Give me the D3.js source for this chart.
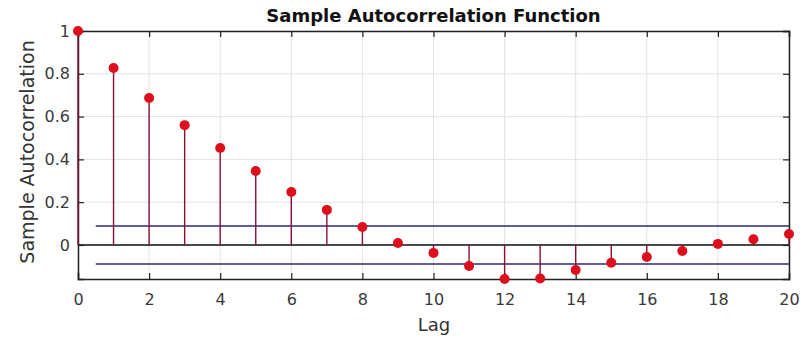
<!DOCTYPE html>
<html>
<head>
<meta charset="utf-8">
<script src="https://cdn.jsdelivr.net/npm/d3@7"></script>
<style>
  body { margin: 0; background: #fff; }
  text { font-family: "DejaVu Sans", sans-serif; }
</style>
</head>
<body>
<div id="chart"></div>
<script>
// lag values and sample autocorrelation
const lags = [0, 1, 2, 3, 4, 5, 6, 7, 8, 9, 10, 11, 12, 13, 14, 15, 16, 17, 18, 19, 20];
const acf = [1, 0.827, 0.687, 0.56, 0.453, 0.346, 0.248, 0.164, 0.084, 0.009, -0.037,
  -0.098, -0.159, -0.157, -0.117, -0.083, -0.056, -0.028, 0.005, 0.027, 0.051];
const bounds = [0.089, -0.089];
const xTicks = [0, 2, 4, 6, 8, 10, 12, 14, 16, 18, 20];
const yTicks = [0, 0.2, 0.4, 0.6, 0.8, 1];

const W = 812, H = 340;
const margin = { top: 31, right: 23, bottom: 61, left: 78 },
  width = W - margin.left - margin.right,
  height = H - margin.top - margin.bottom;

const x = d3.scaleLinear().domain([0, 20]).range([0, width]);
const y = d3.scaleLinear().domain([-0.159, 1]).range([height, 0]);

const svg = d3.select("#chart").append("svg")
  .attr("width", W)
  .attr("height", H);

const g = svg.append("g")
  .attr("transform", "translate(" + margin.left + "," + margin.top + ")");

// grid
g.selectAll(".vgrid").data(xTicks).enter().append("line")
  .attr("x1", d => x(d)).attr("x2", d => x(d))
  .attr("y1", 0).attr("y2", height)
  .attr("stroke", "#e2e2e2").attr("stroke-width", 1);
g.selectAll(".hgrid").data(yTicks).enter().append("line")
  .attr("x1", 0).attr("x2", width)
  .attr("y1", d => y(d)).attr("y2", d => y(d))
  .attr("stroke", "#e2e2e2").attr("stroke-width", 1);

// confidence bounds
g.selectAll(".bound").data(bounds).enter().append("line")
  .attr("x1", x(0.5)).attr("x2", x(20))
  .attr("y1", d => y(d)).attr("y2", d => y(d))
  .attr("stroke", "#2c2a78").attr("stroke-width", 1.5);

// zero line
g.append("line")
  .attr("x1", 0).attr("x2", width)
  .attr("y1", y(0)).attr("y2", y(0))
  .attr("stroke", "#111").attr("stroke-width", 1.5);

// axes with inward ticks
const xAxis = g.append("g").attr("transform", "translate(0," + height + ")")
  .call(d3.axisBottom(x).tickValues(xTicks).tickSize(-6).tickPadding(15).tickFormat(d3.format("d")));
const xTop = g.append("g")
  .call(d3.axisTop(x).tickValues(xTicks).tickSize(-6).tickFormat(""));
const yAxis = g.append("g")
  .call(d3.axisLeft(y).tickValues(yTicks).tickSize(-6).tickPadding(8).tickFormat(d => d === 1 ? "1" : d === 0 ? "0" : d.toFixed(1)));
const yRight = g.append("g").attr("transform", "translate(" + width + ",0)")
  .call(d3.axisRight(y).tickValues(yTicks).tickSize(-6).tickFormat(""));

[xAxis, xTop, yAxis, yRight].forEach(a => {
  a.select(".domain").attr("stroke", "#222").attr("stroke-width", 1.5);
  a.selectAll(".tick line").attr("stroke", "#222").attr("stroke-width", 1.2);
  a.selectAll("text").attr("font-size", 16).attr("fill", "#3a3a3a")
    .style("font-family", "DejaVu Sans, sans-serif");
});

// stems
g.selectAll(".stem").data(lags).enter().append("line")
  .attr("x1", d => x(d)).attr("x2", d => x(d))
  .attr("y1", y(0)).attr("y2", (d, i) => y(acf[i]))
  .attr("stroke", "#8a1030").attr("stroke-width", 1.4);

g.selectAll(".dot").data(lags).enter().append("circle")
  .attr("cx", d => x(d))
  .attr("cy", (d, i) => y(acf[i]))
  .attr("r", 5)
  .attr("fill", "#dd0f1c");

// labels
svg.append("text")
  .attr("x", margin.left + width / 2).attr("y", 22)
  .attr("text-anchor", "middle")
  .attr("font-size", 18).attr("font-weight", "bold").attr("fill", "#111")
  .text("Sample Autocorrelation Function");

svg.append("text")
  .attr("x", 434).attr("y", 331)
  .attr("text-anchor", "middle")
  .attr("font-size", 18).attr("fill", "#333")
  .text("Lag");

svg.append("text")
  .attr("transform", "translate(34,152) rotate(-90)")
  .attr("text-anchor", "middle")
  .attr("font-size", 19).attr("fill", "#333")
  .text("Sample Autocorrelation");
</script>
</body>
</html>
